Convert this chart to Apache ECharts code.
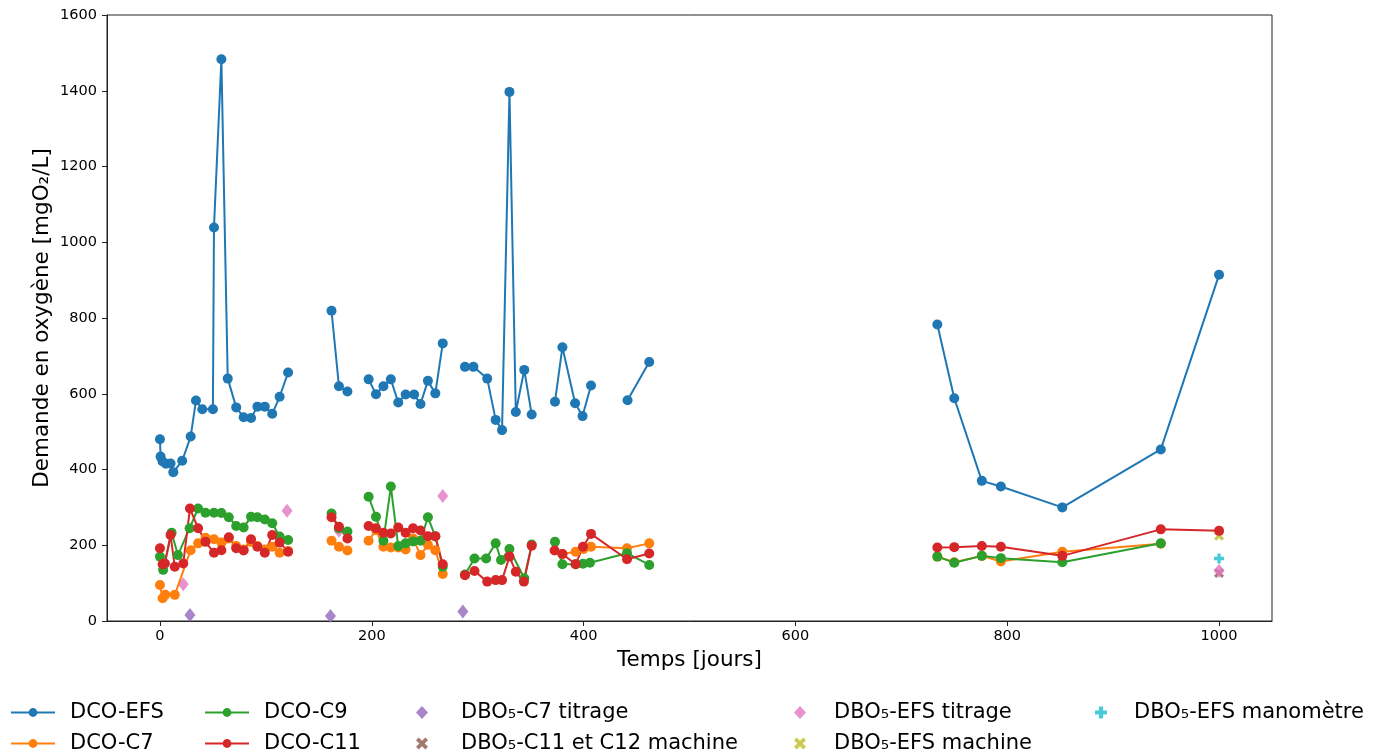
<!DOCTYPE html>
<html>
<head>
<meta charset="utf-8">
<script src="https://cdn.jsdelivr.net/npm/echarts@6/dist/echarts.min.js"></script>
<style>html,body{margin:0;padding:0;background:#fff}#c{width:1384px;height:756px}</style>
</head>
<body>
<div id="c"></div>
<script>
// ---- data (null = break in the line) ----
const efsDays = [0,0.6,2.5,5.7,10,12.6,21,29,34,40,50,51,58,64,72,79,86,92,99,106,113,121,null,
  162,169,177,null,197,204,211,218,225,232,240,246,253,260,267,null,
  288,296,309,317,323,330,336,344,351,null,373,380,392,399,407,null,441.5,462,null,
  734,750,776,794,852,945,1000];
const efsVals = [480,434,421,415,416,393,423,487,582,559,559,1039,1483,640,564,538,536,566,566,547,592,656,null,
  819,620,606,null,638,599,620,638,577,598,598,573,634,601,733,null,
  671,671,640,531,504,1397,552,663,545,null,579,723,575,541,622,null,583,684,null,
  783,588,370,355,300,453,914];

const c7Days = [0,2.5,5,14,29,36,43,51,58,65,72,79,86,92,99,106,113,121,null,
  162,169,177,null,197,204,211,218,225,232,239,246,253,260,267,null,
  380,392.5,400,407,441,462,null,734,750,776,794,852,945];
const c7Vals = [95,60,69,69,187,205,220,216,207,218,198,189,209,198,189,196,180,185,null,
  212,196,186,null,212,240,196,194,194,189,218,174,201,187,124,null,
  177,183,190,196,192,205,null,170,155,172,157,183,204];

const c9Days = [0,3,11,17,28,36,43,51,58,65,72,79,86,92,99,106,113,121,null,
  162,169,177,null,197,204,211,218,225,232,239,246,253,260,267,null,
  288,297,308,317,322,330,344,351,null,373,380,392.5,399.4,406,441,462,null,
  734,750,776,794,852,945];
const c9Vals = [170,135,233,174,245,297,286,286,285,274,251,247,275,274,268,258,223,214,null,
  284,245,236,null,328,275,212,355,198,205,210,212,274,223,143,null,
  123,165,165,205,161,190,113,202,null,209,150,150,151,154,179,148,null,
  170,154,172,166,155,205];

const c11Days = [0,2.5,4.7,10,14,22,28.3,36,43,51,58,65,72,79,86,92,99,106,113,121,null,
  162,169,177,null,197,204,211,218,225,232,239,246,253,260,267,null,
  288,297,309,317,323,330,336,343.6,351,null,372.6,380,392.5,399.4,407,441,462,null,
  734,750,776,794,852,945,1000];
const c11Vals = [192,150,152,227,143,152,297,245,209,180,187,221,192,186,216,196,180,227,207,183,null,
  274,249,218,null,251,245,233,231,247,233,245,239,224,224,150,null,
  121,132,104,108,108,170,130,104,199,null,186,177,150,196,230,163,178,null,
  194,195,198,196,172,242,238];

const c7TitDays = [28.3,161,286];
const c7TitVals = [16,13,25];
const c11MachDays = [1000];
const c11MachVals = [127];
const efsTitDays = [22,120,169,267,1000];
const efsTitVals = [97,291,238,330,133];
const efsMachDays = [1000];
const efsMachVals = [225];
const efsManoDays = [1000];
const efsManoVals = [165];

const xTicks = [0,200,400,600,800,1000];

// ---- build ----
function pts(d, v){ return d.map((x,i)=> (x===null||v[i]===null) ? ['-','-'] : [x, v[i]]); }
const FONT = 'DejaVu Sans';
const X_PATH = 'path://M0,2.2L2.2,0L5,2.8L7.8,0L10,2.2L7.2,5L10,7.8L7.8,10L5,7.2L2.2,10L0,7.8L2.8,5Z';
const P_PATH = 'path://M3.3,0L6.7,0L6.7,3.3L10,3.3L10,6.7L6.7,6.7L6.7,10L3.3,10L3.3,6.7L0,6.7L0,3.3L3.3,3.3Z';

function lineS(name, color, d, v){
  return {name, type:'line', data:pts(d,v), symbol:'circle', symbolSize:10, showSymbol:true,
    connectNulls:false, itemStyle:{color}, lineStyle:{color, width:2}, animation:false};
}
function scatS(name, color, symbol, size, d, v){
  return {name, type:'scatter', data:pts(d,v), symbol, symbolSize:size, itemStyle:{color}, animation:false};
}

const N = {
  efs:'DCO-EFS', c7:'DCO-C7', c9:'DCO-C9', c11:'DCO-C11',
  tit7:'DBO\u2085-C7 titrage', mach11:'DBO\u2085-C11 et C12 machine',
  titE:'DBO\u2085-EFS titrage', machE:'DBO\u2085-EFS machine', manoE:'DBO\u2085-EFS manom\u00e8tre'
};

const LF = 21;
function legLine(left, top, name){
  return {orient:'horizontal', left, top, padding:0, itemWidth:44, itemHeight:11,
    data:[name], textStyle:{fontFamily:FONT, fontSize:LF, color:'#000', padding:[0,0,0,10]}, selectedMode:false};
}
function legSym(left, top, name, pad){
  return {orient:'horizontal', left, top, padding:0, itemWidth:12, itemHeight:13,
    data:[name], textStyle:{fontFamily:FONT, fontSize:LF, color:'#000', padding:[0,0,0,pad]}, selectedMode:false};
}
const R1 = 702, R2 = 733;

const chart = echarts.init(document.getElementById('c'), null, {renderer:'canvas'});
chart.setOption({
  backgroundColor:'#fff',
  animation:false,
  grid:{left:107, right:112, top:15, bottom:135, show:true, borderColor:'#222', borderWidth:1, backgroundColor:'transparent'},
  xAxis:{type:'value', min:-50, max:1050,
    name:'Temps [jours]', nameLocation:'middle', nameGap:28, nameMoveOverlap:false,
    nameTextStyle:{fontFamily:FONT, fontSize:21.5, color:'#000'},
    axisLine:{show:true, onZero:false, lineStyle:{color:'#222', width:1}},
    axisTick:{show:true, length:5, customValues:xTicks, lineStyle:{color:'#222'}},
    axisLabel:{customValues:xTicks, formatter:(v)=>String(v), fontFamily:FONT, fontSize:14.5, color:'#000', margin:8},
    splitLine:{show:false}},
  yAxis:{type:'value', min:0, max:1600, interval:200,
    name:'Demande en oxyg\u00e8ne [mgO\u2082/L]', nameLocation:'middle', nameGap:54, nameRotate:90, nameMoveOverlap:false,
    nameTextStyle:{fontFamily:FONT, fontSize:21.5, color:'#000'},
    axisLine:{show:true, onZero:false, lineStyle:{color:'#222', width:1}},
    axisTick:{show:true, length:5, lineStyle:{color:'#222'}},
    axisLabel:{formatter:(v)=>String(v), fontFamily:FONT, fontSize:14.5, color:'#000', margin:10},
    splitLine:{show:false}},
  legend:[
    legLine(10, R1, N.efs),
    legLine(10, R2, N.c7),
    legLine(204, R1, N.c9),
    legLine(204, R2, N.c11),
    legSym(416, R1, N.tit7, 28),
    legSym(416, R2, N.mach11, 28),
    legSym(794, R1, N.titE, 23),
    legSym(794, R2, N.machE, 23),
    legSym(1095, R1, N.manoE, 22)
  ],
  series:[
    lineS(N.efs, '#1f77b4', efsDays, efsVals),
    lineS(N.c7, '#ff7f0e', c7Days, c7Vals),
    lineS(N.c9, '#2ca02c', c9Days, c9Vals),
    lineS(N.c11, '#d62728', c11Days, c11Vals),
    scatS(N.tit7, '#9467bd', 'diamond', [11,14], c7TitDays, c7TitVals),
    scatS(N.mach11, '#8c564b', X_PATH, 10, c11MachDays, c11MachVals),
    scatS(N.titE, '#e377c2', 'diamond', [11,14], efsTitDays, efsTitVals),
    scatS(N.machE, '#bcbd22', X_PATH, 10, efsMachDays, efsMachVals),
    scatS(N.manoE, '#17becf', P_PATH, 10, efsManoDays, efsManoVals)
  ]
});
</script>
</body>
</html>
